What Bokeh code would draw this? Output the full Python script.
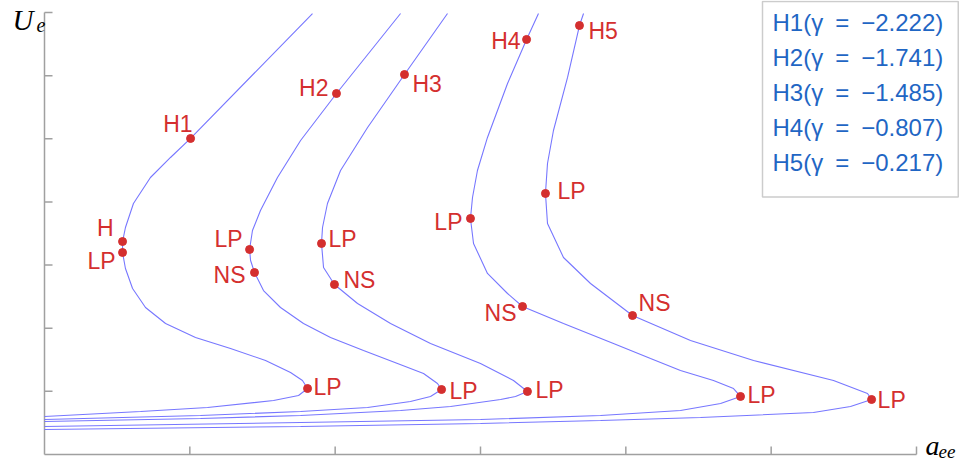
from bokeh.plotting import figure
from bokeh.models import Label, Range1d, ColumnDataSource
from bokeh.core.properties import value
from bokeh.embed import file_html
from bokeh.resources import INLINE

# ---- data (a_ee on x, U_e on y) ----
c1_x = [1.844, 1.005, 0.867, 0.729, 0.612, 0.557, 0.537, 0.537, 0.557, 0.606, 0.695, 0.833, 1.039, 1.280, 1.521, 1.693, 1.775, 1.810, 1.748, 1.576, 1.122, 0.661, 0.0]
c1_y = [6.984, 5.005, 4.704, 4.387, 3.975, 3.595, 3.373, 3.199, 2.946, 2.629, 2.328, 2.075, 1.853, 1.679, 1.489, 1.299, 1.172, 1.045, 0.934, 0.855, 0.744, 0.681, 0.602]
c2_x = [2.450, 2.009, 1.762, 1.603, 1.486, 1.431, 1.411, 1.418, 1.445, 1.507, 1.624, 1.782, 1.968, 2.195, 2.429, 2.608, 2.704, 2.732, 2.656, 2.518, 2.223, 1.762, 1.073, 0.0]
c2_y = [6.984, 5.717, 4.973, 4.387, 3.864, 3.548, 3.247, 3.073, 2.882, 2.597, 2.328, 2.075, 1.853, 1.647, 1.441, 1.283, 1.125, 1.029, 0.919, 0.839, 0.744, 0.681, 0.618, 0.554]
c3_x = [2.773, 2.477, 2.223, 2.037, 1.947, 1.913, 1.906, 1.920, 1.995, 2.154, 2.381, 2.656, 3.000, 3.227, 3.323, 3.241, 3.138, 2.794, 2.450, 1.762, 1.073, 0.0]
c3_y = [6.984, 6.018, 5.179, 4.498, 3.975, 3.595, 3.342, 2.962, 2.692, 2.391, 2.075, 1.758, 1.441, 1.172, 0.998, 0.919, 0.871, 0.760, 0.697, 0.618, 0.570, 0.523]
c4_x = [3.399, 3.317, 3.186, 3.048, 2.979, 2.945, 2.931, 2.952, 3.048, 3.186, 3.289, 3.571, 3.915, 4.170, 4.376, 4.603, 4.741, 4.789, 4.652, 4.376, 3.826, 3.000, 1.762, 0.0]
c4_y = [6.984, 6.573, 5.876, 5.021, 4.498, 4.070, 3.738, 3.342, 2.867, 2.550, 2.344, 2.075, 1.758, 1.520, 1.330, 1.172, 1.045, 0.919, 0.808, 0.697, 0.618, 0.554, 0.507, 0.443]
c5_x = [3.709, 3.681, 3.599, 3.502, 3.461, 3.447, 3.461, 3.571, 3.757, 4.046, 4.445, 4.879, 5.429, 5.663, 5.691, 5.546, 5.291, 4.514, 3.826, 3.000, 1.762, 0.0]
c5_y = [6.984, 6.794, 5.971, 5.131, 4.609, 4.134, 3.659, 3.120, 2.708, 2.201, 1.806, 1.489, 1.172, 0.966, 0.871, 0.760, 0.665, 0.586, 0.538, 0.491, 0.443, 0.396]

pts_x = [1.005, 0.537, 0.537, 1.810, 2.009, 1.411, 1.445, 2.732, 2.477, 1.906, 1.995, 3.323, 3.317, 2.931, 3.289, 4.789, 3.681, 3.447, 4.046, 5.691]
pts_y = [5.005, 3.373, 3.199, 1.045, 5.717, 3.247, 2.882, 1.029, 6.018, 3.342, 2.692, 0.998, 6.573, 3.738, 2.344, 0.919, 6.794, 4.134, 2.201, 0.871]
pts_text = ["H1", "H", "LP", "LP", "H2", "LP", "NS", "LP", "H3", "LP", "NS", "LP",
            "H4", "LP", "NS", "LP", "H5", "LP", "NS", "LP"]

legend_names = ["H1", "H2", "H3", "H4", "H5"]
legend_gamma = [-2.222, -1.741, -1.485, -0.807, -0.217]

x_ticks = [0, 1, 2, 3, 4, 5, 6]
y_ticks = [0, 1, 2, 3, 4, 5, 6, 7]

# ---- label placement (styles) ----
lab_dx = [2, -9, -7, 6, -8, -7, -9, 8, 8, 7, 9, 8, -6, -8, -6, 7, 9, 12, 6, 6]
lab_dy = [-14, -14, 8, -2, -6, -10, 2, 1, 9, -4, -5, -1, 2, 4, 7, -1, 5, -2, -13, 0]
lab_al = ["right", "right", "right", "left", "right", "right", "right", "left", "left", "left",
          "left", "left", "right", "right", "right", "left", "left", "left", "left", "left"]

CURVE = "#7777ff"
RED = "#d42f2f"
BLUE = "#1f66c4"
AXIS = "#a0a0a0"

# ---- layout: the frame fills the canvas; axes are drawn at x=0 / y=0 ----
W, H = 959, 465
AX_LEFT, AX_RIGHT, AX_TOP, AX_BOTTOM = 44, 916, 12, 454
ppx = (AX_RIGHT - AX_LEFT) / (x_ticks[-1] - x_ticks[0])
ppy = (AX_BOTTOM - AX_TOP) / (y_ticks[-1] - y_ticks[0])
xr = Range1d(x_ticks[0] - AX_LEFT / ppx, x_ticks[0] + (W - AX_LEFT) / ppx)
yr = Range1d(y_ticks[0] - (H - AX_BOTTOM) / ppy, y_ticks[0] + AX_BOTTOM / ppy)

p = figure(width=W, height=H, output_backend="svg", toolbar_location=None,
           x_range=xr, y_range=yr, min_border=0)
p.grid.visible = False
p.axis.visible = False
p.outline_line_color = None
p.title.visible = False

TICK = 8  # px, inward
p.segment(x0=[x_ticks[0], x_ticks[0]], y0=[y_ticks[0], y_ticks[0]],
          x1=[x_ticks[-1], x_ticks[0]], y1=[y_ticks[0], y_ticks[-1]],
          line_color=AXIS, line_width=1.5)
p.segment(x0=x_ticks[1:], y0=[y_ticks[0]] * (len(x_ticks) - 1),
          x1=x_ticks[1:], y1=[y_ticks[0] + TICK / ppy] * (len(x_ticks) - 1),
          line_color=AXIS, line_width=1.5)
p.segment(x0=[x_ticks[0]] * (len(y_ticks) - 1), y0=y_ticks[1:],
          x1=[x_ticks[0] + TICK / ppx] * (len(y_ticks) - 1), y1=y_ticks[1:],
          line_color=AXIS, line_width=1.5)

for cx, cy in ((c1_x, c1_y), (c2_x, c2_y), (c3_x, c3_y), (c4_x, c4_y), (c5_x, c5_y)):
    p.line(cx, cy, line_color=CURVE, line_width=1.1)

src = ColumnDataSource(dict(x=pts_x, y=pts_y, t=pts_text, dx=lab_dx, dy=lab_dy, al=lab_al))
p.scatter("x", "y", source=src, size=8, color=RED)
p.text("x", "y", text="t", source=src, x_offset="dx", y_offset="dy", text_align="al",
       text_baseline="alphabetic", text_color=RED, text_font_size="23px",
       text_font=value("Liberation Sans"))

def at(px, py):
    return x_ticks[0] + (px - AX_LEFT) / ppx, y_ticks[0] + (AX_BOTTOM - py) / ppy

legend_txt = "\n".join(f"{n}(γ\u2002=\u2002−{abs(g):.3f})" for n, g in zip(legend_names, legend_gamma))
lgx, lgy = at(762, 1)
p.add_layout(Label(x=lgx, y=lgy,
                   text=legend_txt, text_align="left", text_baseline="top",
                   text_font="Liberation Sans", text_font_size="24px", text_color=BLUE,
                   text_line_height=1.30, border_line_color="#cccccc", border_line_width=1.5,
                   background_fill_color="white", padding=(10, 15, 7, 21)))

# axis titles (pixel anchors already include the baseline correction)
for txt, (px, py), fs in (("U", (12, 19), "29px"), ("e", (36, 24), "20px"),
                          ("a", (925, 445), "28px"), ("ee", (938, 451), "19px")):
    lx, ly = at(px, py)
    p.add_layout(Label(x=lx, y=ly, text=txt, text_font="Liberation Serif",
                       text_font_style="italic", text_font_size=fs, text_color="black",
                       text_baseline="alphabetic"))

open("out.html", "w").write(file_html(p, INLINE))
